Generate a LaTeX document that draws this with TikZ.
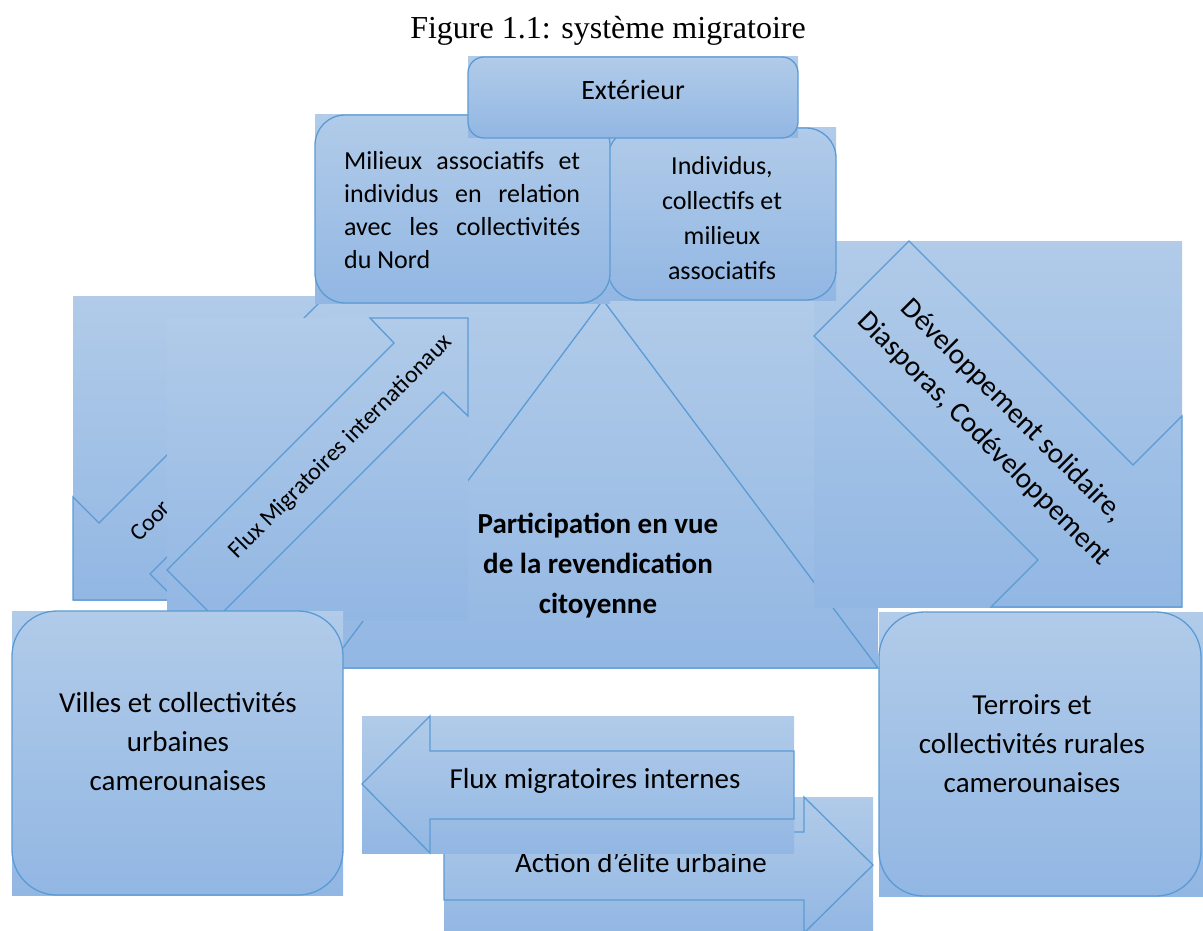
\documentclass[tikz,border=0pt]{standalone}
\usepackage{fontspec}
\setmainfont{Carlito}
\newfontfamily\titlefont{Liberation Serif}
\definecolor{lt}{RGB}{177,203,233}
\definecolor{dk}{RGB}{146,183,227}
\definecolor{ln}{RGB}{91,155,213}
\begin{document}
\begin{tikzpicture}[x=1pt,y=-1pt,
  bg/.style={top color=lt, bottom color=dk, draw=none},
  ol/.style={draw=ln, line width=1.3pt, line join=miter},
  txt/.style={text=black, inner sep=0pt, align=center, font=\fontsize{29}{39}\selectfont},
]
\useasboundingbox (0,0) rectangle (1203,931);
\clip (0,0) rectangle (1203,931);

% title
\node[font=\titlefont\fontsize{32}{38}\selectfont, anchor=base, inner sep=0pt] (title) at (608,39) {Figure 1.1: système migratoire};

% Coordination arrow (behind)
\fill[bg] (73,296) rectangle (377,600);
\draw[ol] (73,600) -- (73,497) -- (99,523) -- (326,296) -- (377,347) -- (150,574) -- (176,600) -- cycle;
\node[txt, font=\fontsize{24}{29}\selectfont, rotate=45] (coor) at (150,521) {Coor};

% triangle
\fill[bg] (328,300) rectangle (878,668);
\draw[ol] (603,300) -- (878,668) -- (328,668) -- cycle;
\node[txt, font=\bfseries\fontsize{29}{40}\selectfont] (part) at (598,566) {Participation en vue\\de la revendication\\citoyenne};

% developpement arrow
\fill[bg] (814,241) rectangle (1182,607);
\draw[ol] (909,241) -- (1133,465) -- (1182,416) -- (1182,607) -- (991,607) -- (1038,560) -- (814,336) -- cycle;
\node[txt, font=\fontsize{29}{40}\selectfont, rotate=-45] (dev) at (998,425) {Développement solidaire,\\Diasporas, Codéveloppement};

% flux migratoires internationaux arrow
\fill[bg] (167,318) rectangle (468,620);
\draw[ol] (468,318) -- (468,416) -- (443,392) -- (216,619) -- (167,570) -- (394,343) -- (370,318) -- cycle;
\node[txt, font=\fontsize{24}{29}\selectfont, rotate=45] (fmi) at (341,447) {Flux Migratoires internationaux};

% Individus box
\fill[bg] (608,128) rectangle (836,300);
\draw[ol, rounded corners=30] (608,128) rectangle (836,300);
\node[txt, font=\fontsize{26}{35}\selectfont] (ind) at (722,218) {Individus,\\collectifs et\\milieux\\associatifs};

% Milieux box
\fill[bg] (315,115) rectangle (610,303);
\draw[ol, rounded corners=30] (315,115) rectangle (610,303);
\node[text width=236pt, align=justify, font=\fontsize{26}{33}\selectfont, anchor=north west, inner sep=0pt] (mil) at (344,151) {Milieux associatifs et individus en relation avec les collectivités du Nord};

% Exterieur box
\fill[bg] (468,57) rectangle (798,138);
\draw[ol, rounded corners=16] (468,57) rectangle (798,138);
\node[txt, font=\fontsize{28}{34}\selectfont] (ext) at (633,90) {Extérieur};

% Villes box
\fill[bg] (12,611) rectangle (343,895);
\draw[ol, rounded corners=45] (12,611) rectangle (343,895);
\node[txt] (vil) at (178,742) {Villes et collectivités\\urbaines\\camerounaises};

% Terroirs box
\fill[bg] (879,612) rectangle (1203,896);
\draw[ol, rounded corners=45] (879,612) rectangle (1201,896);
\node[txt] (ter) at (1032,744) {Terroirs et\\collectivités rurales\\camerounaises};

% Action d'elite urbaine arrow
\fill[bg] (444,797) rectangle (873,933);
\draw[ol] (873,865) -- (804,933) -- (804,900) -- (444,900) -- (444,832) -- (804,832) -- (804,797) -- cycle;
\node[txt] (act) at (641,862) {Action d’élite urbaine};

% Flux migratoires internes arrow
\fill[bg] (362,716) rectangle (794,853);
\draw[ol] (362,784) -- (430,716) -- (430,751) -- (794,751) -- (794,819) -- (430,819) -- (430,853) -- cycle;
\node[txt] (fin) at (595,781) {Flux migratoires internes};
\end{tikzpicture}
\end{document}
